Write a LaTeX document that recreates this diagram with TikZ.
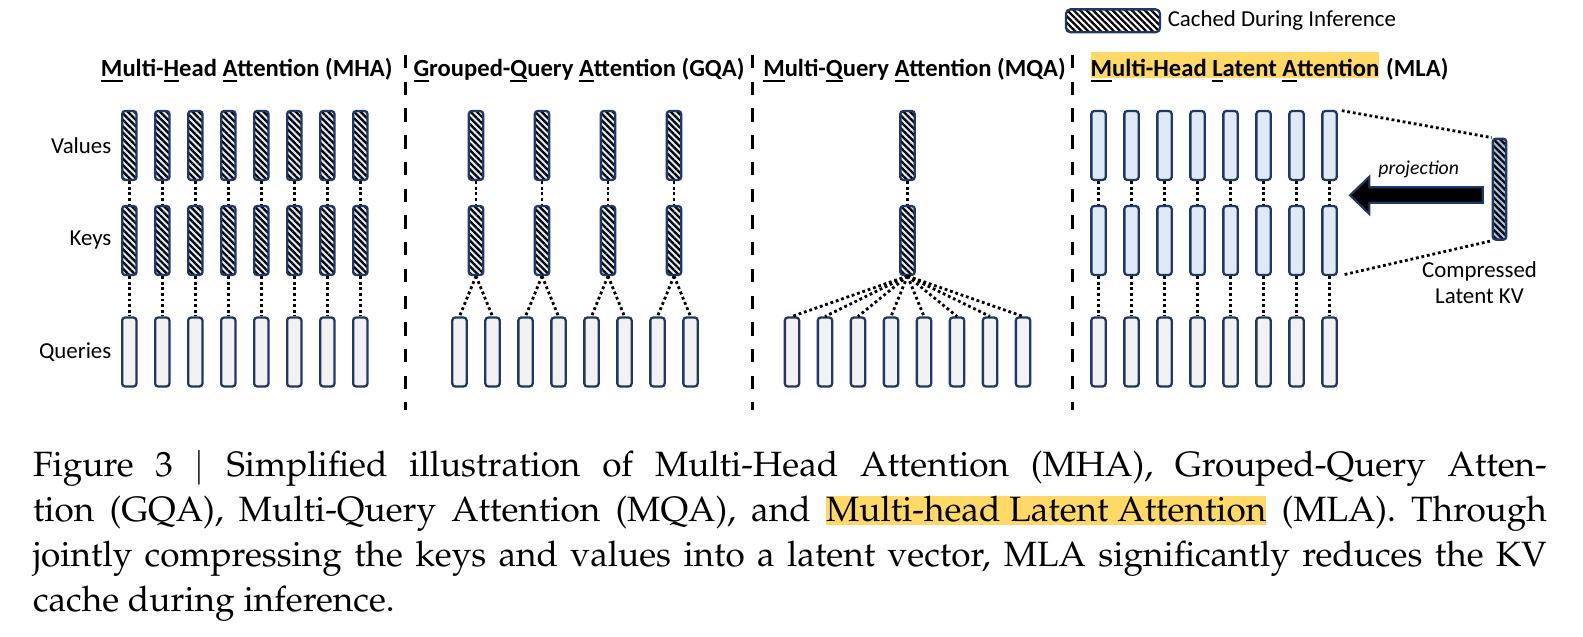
\documentclass[tikz,border=0pt]{standalone}
\usepackage[T1]{fontenc}
\usepackage{fontspec}
\setsansfont{Carlito}
\usepackage{xcolor}
\usetikzlibrary{positioning,patterns.meta}
\definecolor{navy}{RGB}{32,56,100}
\definecolor{kvblue}{RGB}{222,235,247}
\definecolor{qgray}{RGB}{242,242,242}
\definecolor{latblue}{RGB}{157,195,230}
\definecolor{hlyellow}{RGB}{255,217,102}
% 首字母下划线
\newcommand{\initl}[1]{\setbox0\hbox{#1}\rlap{\rule[-1.45pt]{\wd0}{0.5pt}}\box0}
\newcommand{\hlbox}[1]{{\setlength{\fboxsep}{0pt}\colorbox{hlyellow}{\rule[-0.8pt]{0pt}{7.3pt}#1}}}
\newcommand{\captfont}{\fontencoding{T1}\fontfamily{ppl}\fontsize{10}{12.8}\selectfont}
\tikzset{
    kvbox/.style={
        draw=navy,
        line width=0.65pt,
        rounded corners=0.8pt,
        inner sep=0pt,
        minimum width=0.143cm,
        minimum height=0.688cm
    },
    % 推理时缓存的斜线条
    cachedbox/.style={
        kvbox,
        preaction={fill=kvblue},
        preaction={pattern={Lines[angle=-45,distance=1.3pt,line width=0.65pt]}, pattern color=black}
    },
    querybox/.style={kvbox, fill=qgray},
    mlabox/.style={kvbox, fill=kvblue},
    latentbox/.style={
        kvbox,
        minimum width=0.134cm,
        minimum height=1.008cm,
        preaction={fill=latblue},
        preaction={pattern={Lines[angle=-45,distance=1.3pt,line width=0.65pt]}, pattern color=black}
    },
    dotline/.style={line width=0.8pt, dash pattern=on 0.8pt off 0.8pt},
    sepline/.style={line width=0.85pt, dash pattern=on 3.8pt off 3.8pt},
    titletxt/.style={font=\sffamily\bfseries\fontsize{7}{8}\selectfont, inner sep=0pt},
    labeltxt/.style={font=\sffamily\fontsize{6.5}{7.4}\selectfont, inner sep=0pt}
}
\begin{document}
\begin{tikzpicture}[x=0.01cm,y=-0.01cm]
    \useasboundingbox (0,0) rectangle (1583,637);

    % 图例
    \node[kvbox, minimum width=0.938cm, minimum height=0.228cm, rounded corners=1.2pt,
        preaction={fill=white},
        preaction={pattern={Lines[angle=-45,distance=1.3pt,line width=0.65pt]}, pattern color=black}]
        (legendbox) at (1113,20.8) {};
    \node[labeltxt, right=0.06cm of legendbox] (legendtxt) {Cached During Inference};

    % 标题
    \node[titletxt, anchor=base] (mhatitle) at (246.7,77) {\initl{M}ulti-\initl{H}ead \initl{A}ttention (MHA)};
    \node[titletxt, anchor=base] (gqatitle) at (579,77) {\initl{G}rouped-\initl{Q}uery \initl{A}ttention (GQA)};
    \node[titletxt, anchor=base] (mqatitle) at (914.5,77) {\initl{M}ulti-\initl{Q}uery \initl{A}ttention (MQA)};
    \node[titletxt, anchor=base west, fill=hlyellow, text height=7.1pt, text depth=0.2pt]
        (mlatitle) at (1090,77) {\initl{M}ulti-Head \initl{L}atent \initl{A}ttention};
    \node[titletxt, anchor=base west, xshift=0.055cm] (mlaabbr) at (mlatitle.base east) {(MLA)};

    % 虚线分隔
    \foreach \x in {405.5,752.7,1072.7}
        \draw[sepline] (\x,55) -- (\x,410);

    % MHA
    \foreach \i in {1,...,8} {
        \node[cachedbox] (mhav\i) at ({96.3+33*\i},145.5) {};
        \node[cachedbox] (mhak\i) at ({96.3+33*\i},240.5) {};
        \node[querybox] (mhaq\i) at ({96.3+33*\i},352) {};
        \draw[dotline] (mhav\i.south) -- (mhak\i.north);
        \draw[dotline] (mhak\i.south) -- (mhaq\i.north);
    }
    \node[labeltxt, left=0.09cm of mhav1] (vallbl) {Values};
    \node[labeltxt, left=0.09cm of mhak1] (keylbl) {Keys};
    \node[labeltxt, left=0.09cm of mhaq1] (qrylbl) {Queries};

    % GQA
    \foreach \i in {1,...,8}
        \node[querybox] (gqaq\i) at ({426.5+33*\i},352) {};
    \foreach \j [evaluate=\j as \a using int(2*\j-1), evaluate=\j as \b using int(2*\j)] in {1,...,4} {
        \node[cachedbox] (gqav\j) at ({410+66*\j},145.5) {};
        \node[cachedbox] (gqak\j) at ({410+66*\j},240.5) {};
        \draw[dotline] (gqav\j.south) -- (gqak\j.north);
        \draw[dotline] (gqak\j.south) -- (gqaq\a.north);
        \draw[dotline] (gqak\j.south) -- (gqaq\b.north);
    }

    % MQA
    \node[cachedbox] (mqav) at (907.5,145.5) {};
    \node[cachedbox] (mqak) at (907.5,240.5) {};
    \draw[dotline] (mqav.south) -- (mqak.north);
    \foreach \i in {1,...,8} {
        \node[querybox] (mqaq\i) at ({759+33*\i},352) {};
        \draw[dotline] (mqak.south) -- (mqaq\i.north);
    }

    % MLA
    \foreach \i in {1,...,8} {
        \node[mlabox] (mlav\i) at ({1065.5+33*\i},145.5) {};
        \node[mlabox] (mlak\i) at ({1065.5+33*\i},240.5) {};
        \node[querybox] (mlaq\i) at ({1065.5+33*\i},352) {};
        \draw[dotline] (mlav\i.south) -- (mlak\i.north);
        \draw[dotline] (mlak\i.south) -- (mlaq\i.north);
    }
    \node[latentbox] (latent) at (1499.5,189.2) {};
    \draw[dotline, shorten <=0.04cm] (mlav8.north east) -- (latent.north west);
    \draw[dotline, shorten <=0.07cm] (mlak8.south east) -- (latent.south west);
    \node[labeltxt, align=center, anchor=north] (cmptxt) at (1479.5,261) {Compressed\\Latent KV};

    % 投影箭头
    \draw[fill=black, draw=navy, line width=0.6pt]
        (1482.7,187.3) -- (1369.3,187.3) -- (1369.3,176.7) -- (1350,195.3)
        -- (1369.3,214) -- (1369.3,202.7) -- (1482.7,202.7) -- cycle;
    \node[labeltxt, font=\sffamily\itshape\fontsize{5.6}{6.5}\selectfont, anchor=base] (projtxt) at (1418.7,175) {projection};

    % 图注
    \node[anchor=base west, inner sep=0pt, text width=15.13cm, align=justify, font=\captfont]
        (caption) at (32.3,476.7) {\hyphenpenalty=10000
        Figure 3 $|$ Simplified illustration of Multi-Head Attention (MHA), Grouped-Query Atten-\linebreak
        tion (GQA), Multi-Query Attention (MQA), and \hlbox{Multi-head Latent Attention} (MLA). Through\linebreak
        jointly compressing the keys and values into a latent vector, MLA significantly reduces the KV\linebreak
        cache during inference.};
\end{tikzpicture}
\end{document}
